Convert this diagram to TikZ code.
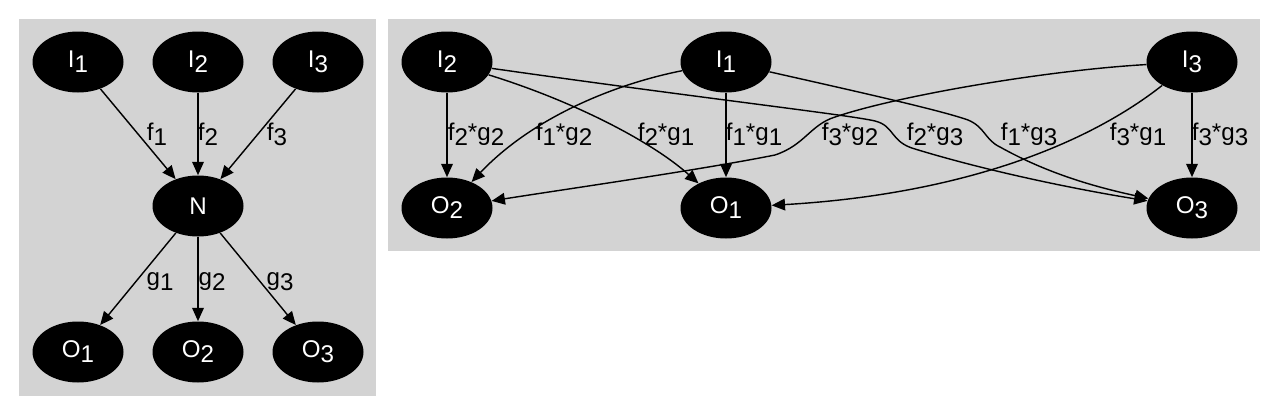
\documentclass[tikz,border=0pt]{standalone}
\usepackage{fontspec}
\setmainfont{Liberation Sans}
\usetikzlibrary{arrows.meta,shapes.geometric}
\definecolor{panelgray}{HTML}{D3D3D3}
\newcommand\nsub[1]{\raisebox{-3pt}{#1}}
\begin{document}
\begin{tikzpicture}[x=0.6pt,y=-0.6pt,
  vtx/.style={ellipse, fill=black, text=white, minimum width=54.6pt, minimum height=36.6pt, inner sep=0pt, font=\fontsize{14.5}{14.5}\selectfont},
  edge/.style={-{Triangle[length=8pt,width=7pt]}, line width=0.85pt},
  lbl/.style={font=\fontsize{14.5}{14.5}\selectfont, anchor=base, inner sep=0pt}]
\useasboundingbox (0,0) rectangle (1280,416);
\fill[panelgray] (19,19) rectangle (376,396);
\fill[panelgray] (388,19) rectangle (1260,251);
% left graph
\node[vtx] (LI1) at (78,62) {I\nsub{1}};
\node[vtx] (LI2) at (198,62) {I\nsub{2}};
\node[vtx] (LI3) at (318,62) {I\nsub{3}};
\node[vtx] (LN) at (198,206) {N};
\node[vtx] (LO1) at (78,352) {O\nsub{1}};
\node[vtx] (LO2) at (198,352) {O\nsub{2}};
\node[vtx] (LO3) at (318,352) {O\nsub{3}};
\draw[edge] (LI1) -- (LN);
\draw[edge] (LI2) -- (LN);
\draw[edge] (LI3) -- (LN);
\draw[edge] (LN) -- (LO1);
\draw[edge] (LN) -- (LO2);
\draw[edge] (LN) -- (LO3);
\node[lbl] (lf1) at (157,140) {f\nsub{1}};
\node[lbl] (lf2) at (208,140) {f\nsub{2}};
\node[lbl] (lf3) at (277,140) {f\nsub{3}};
\node[lbl] (lg1) at (160,285) {g\nsub{1}};
\node[lbl] (lg2) at (212,285) {g\nsub{2}};
\node[lbl] (lg3) at (280,285) {g\nsub{3}};
% right graph
\node[vtx] (RI2) at (447,62) {I\nsub{2}};
\node[vtx] (RI1) at (726,62) {I\nsub{1}};
\node[vtx] (RI3) at (1192,62) {I\nsub{3}};
\node[vtx] (RO2) at (447,208) {O\nsub{2}};
\node[vtx] (RO1) at (726,208) {O\nsub{1}};
\node[vtx] (RO3) at (1192,208) {O\nsub{3}};
\draw[edge] (RI2) -- (RO2);
\draw[edge] (RI1) -- (RO1);
\draw[edge] (RI3) -- (RO3);
\draw[edge] (RI1) .. controls (610,85) and (530,120) .. (RO2);
\draw[edge] (RI2) .. controls (570,100) and (650,140) .. (RO1);
\draw[edge] (RI2) .. controls (700,98) and (850,115) .. (875,121)
  .. controls (895,126) and (890,142) .. (915,149)
  .. controls (990,172) and (1080,190) .. (RO3);
\draw[edge] (RI1) .. controls (850,90) and (940,110) .. (968,120)
  .. controls (985,127) and (985,140) .. (1000,147)
  .. controls (1050,175) and (1100,188) .. (RO3);
\draw[edge] (RI3) .. controls (1050,70) and (900,95) .. (835,117)
  .. controls (810,125) and (805,145) .. (775,155)
  .. controls (700,170) and (560,190) .. (RO2);
\draw[edge] (RI3) .. controls (1080,150) and (950,195) .. (RO1);
\node[lbl] (r22) at (476,140) {f\nsub{2}*g\nsub{2}};
\node[lbl] (r12) at (564,140) {f\nsub{1}*g\nsub{2}};
\node[lbl] (r21) at (666,140) {f\nsub{2}*g\nsub{1}};
\node[lbl] (r11) at (754,140) {f\nsub{1}*g\nsub{1}};
\node[lbl] (r32) at (850,140) {f\nsub{3}*g\nsub{2}};
\node[lbl] (r23) at (935,140) {f\nsub{2}*g\nsub{3}};
\node[lbl] (r13) at (1029,140) {f\nsub{1}*g\nsub{3}};
\node[lbl] (r31) at (1138,140) {f\nsub{3}*g\nsub{1}};
\node[lbl] (r33) at (1220,140) {f\nsub{3}*g\nsub{3}};
\end{tikzpicture}
\end{document}
